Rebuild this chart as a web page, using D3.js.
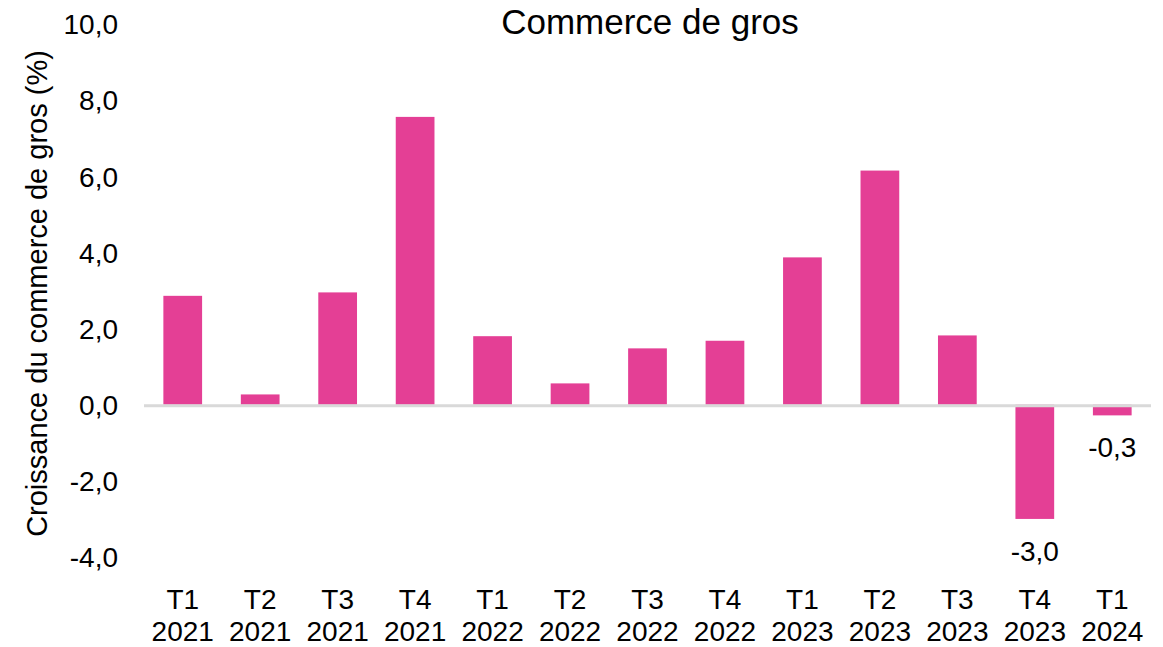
<!DOCTYPE html>
<html lang="fr">
<head>
<meta charset="UTF-8">
<script src="https://cdn.jsdelivr.net/npm/d3@7"></script>
<style>
  body { margin: 0; background: #fff; }
  svg { display: block; font-family: "Liberation Sans", Arial, sans-serif; }
  .tick text { font-size: 28px; fill: #000; }
</style>
</head>
<body>
<div id="chart"></div>
<script>
  // quarters and years (x labels)
  var quarters = ["T1", "T2", "T3", "T4", "T1", "T2", "T3", "T4", "T1", "T2", "T3", "T4", "T1"];
  var years = ["2021", "2021", "2021", "2021", "2022", "2022", "2022", "2022", "2023", "2023", "2023", "2023", "2024"];
  // croissance du commerce de gros (%)
  var growth = [2.86, 0.27, 2.95, 7.56, 1.8, 0.56, 1.48, 1.68, 3.87, 6.15, 1.82, -3.0, -0.28];
  var yTicks = [-4, -2, 0, 2, 4, 6, 8, 10];

  var width = 1163, height = 647;
  var plotLeft = 144, plotRight = 1151, plotTop = 24, plotBottom = 557;

  var svg = d3.select("#chart").append("svg")
    .attr("width", width)
    .attr("height", height);

  var keys = d3.range(growth.length);

  var x = d3.scaleBand()
    .domain(keys)
    .range([plotLeft, plotRight])
    .paddingInner(0.5)
    .paddingOuter(0.25);

  var y = d3.scaleLinear()
    .domain([-4, 10])
    .range([plotBottom, plotTop]);

  var fmt = function(v) { return d3.format(".1f")(v).replace(".", ",").replace("−", "-"); };

  // y axis (labels only)
  var yAxis = svg.append("g")
    .attr("transform", "translate(" + 118 + ",0)")
    .call(d3.axisLeft(y).tickValues(yTicks).tickSize(0).tickFormat(fmt));
  yAxis.select(".domain").remove();
  yAxis.selectAll("text").attr("x", 0).attr("dy", "0.35em");

  // bars
  svg.selectAll(".bar")
    .data(keys)
    .enter()
    .append("rect")
    .attr("class", "bar")
    .attr("x", function(i) { return x(i); })
    .attr("width", x.bandwidth())
    .attr("y", function(i) { return y(Math.max(0, growth[i])); })
    .attr("height", function(i) { return Math.abs(y(growth[i]) - y(0)); })
    .attr("fill", "#e43f95");

  // zero line
  svg.append("line")
    .attr("x1", plotLeft).attr("x2", plotRight)
    .attr("y1", y(0) + 1).attr("y2", y(0) + 1)
    .attr("stroke", "#d9d9d9")
    .attr("stroke-width", 3);

  // value labels for negative bars
  svg.selectAll(".val")
    .data(keys.filter(function(i) { return growth[i] < 0; }))
    .enter()
    .append("text")
    .attr("class", "val")
    .attr("x", function(i) { return x(i) + x.bandwidth() / 2; })
    .attr("y", function(i) { return y(growth[i]) + 42; })
    .attr("text-anchor", "middle")
    .style("font-size", "28px")
    .text(function(i) { return fmt(growth[i]); });

  // x labels, two lines
  var xl = svg.selectAll(".xlab")
    .data(keys)
    .enter()
    .append("text")
    .attr("class", "xlab")
    .attr("text-anchor", "middle")
    .style("font-size", "28px")
    .attr("transform", function(i) { return "translate(" + (x(i) + x.bandwidth() / 2) + ",0)"; });
  xl.append("tspan").attr("x", 0).attr("y", 609).text(function(i) { return quarters[i]; });
  xl.append("tspan").attr("x", 0).attr("y", 641).text(function(i) { return years[i]; });

  // title
  svg.append("text")
    .attr("x", 650)
    .attr("y", 34)
    .attr("text-anchor", "middle")
    .style("font-size", "35px")
    .text("Commerce de gros");

  // y axis title
  svg.append("text")
    .attr("transform", "rotate(-90)")
    .attr("x", -(50 + 537) / 2)
    .attr("y", 47)
    .attr("text-anchor", "middle")
    .style("font-size", "29px")
    .text("Croissance du commerce de gros (%)");
</script>
</body>
</html>
